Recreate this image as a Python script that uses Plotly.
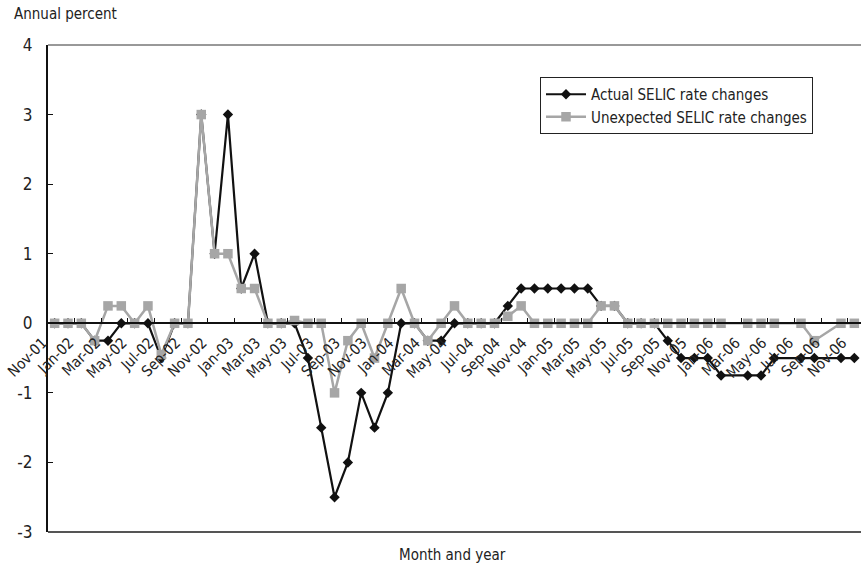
import plotly.graph_objects as go

# Monthly observations, Nov-01 ... Nov-06 (61 months)
month_labels = [
    "Nov-01", "Dec-01",
    "Jan-02", "Feb-02", "Mar-02", "Apr-02", "May-02", "Jun-02", "Jul-02", "Aug-02", "Sep-02", "Oct-02", "Nov-02", "Dec-02",
    "Jan-03", "Feb-03", "Mar-03", "Apr-03", "May-03", "Jun-03", "Jul-03", "Aug-03", "Sep-03", "Oct-03", "Nov-03", "Dec-03",
    "Jan-04", "Feb-04", "Mar-04", "Apr-04", "May-04", "Jun-04", "Jul-04", "Aug-04", "Sep-04", "Oct-04", "Nov-04", "Dec-04",
    "Jan-05", "Feb-05", "Mar-05", "Apr-05", "May-05", "Jun-05", "Jul-05", "Aug-05", "Sep-05", "Oct-05", "Nov-05", "Dec-05",
    "Jan-06", "Feb-06", "Mar-06", "Apr-06", "May-06", "Jun-06", "Jul-06", "Aug-06", "Sep-06", "Oct-06", "Nov-06",
]

actual_changes = [
    0, 0,
    0, -0.25, -0.25, 0, 0, 0, -0.5, 0, 0, 3, 1, 3,
    0.5, 1, 0, 0, 0, -0.5, -1.5, -2.5, -2, -1, -1.5, -1,
    0, 0, -0.25, -0.25, 0, 0, 0, 0, 0.25, 0.5, 0.5, 0.5,
    0.5, 0.5, 0.5, 0.25, 0.25, 0, 0, 0, -0.25, -0.5, -0.5, -0.5,
    -0.75, None, -0.75, -0.75, -0.5, None, -0.5, -0.5, None, -0.5, -0.5,
]

unexpected_changes = [
    0, 0,
    0, -0.25, 0.25, 0.25, 0, 0.25, -0.45, 0, 0, 3, 1, 1,
    0.5, 0.5, 0, 0, 0.04, 0, 0, -1, -0.25, 0, -0.5, 0,
    0.5, 0, -0.25, 0, 0.25, 0, 0, 0, 0.1, 0.25, 0, 0,
    0, 0, 0, 0.25, 0.25, 0, 0, 0, 0, 0, 0, 0,
    0, None, 0, 0, 0, None, 0, -0.25, None, 0, 0,
]

y_tick_values = [-3, -2, -1, 0, 1, 2, 3, 4]
y_tick_text = ["-3", "-2", "-1", "0", "1", "2", "3", "4"]

FONT = "DejaVu Sans Condensed, DejaVu Sans, sans-serif"

x_idx = list(range(len(month_labels)))
label_idx = x_idx[::2]
label_text = month_labels[::2]
minor_ticks = [i + 1.5 for i in x_idx[::2]][:-1]

fig = go.Figure()

fig.add_trace(go.Scatter(
    x=x_idx, y=actual_changes, name="Actual SELIC rate changes",
    mode="lines+markers", connectgaps=True,
    line=dict(color="#111111", width=2.2),
    marker=dict(symbol="diamond", size=8, color="#111111"),
))
fig.add_trace(go.Scatter(
    x=x_idx, y=unexpected_changes, name="Unexpected SELIC rate changes",
    mode="lines+markers", connectgaps=True,
    line=dict(color="#a6a6a6", width=2.5),
    marker=dict(symbol="square", size=9.5, color="#a6a6a6"),
))

fig.update_layout(
    width=861, height=569,
    margin=dict(l=48, r=0, t=45, b=37),
    paper_bgcolor="white", plot_bgcolor="white",
    font=dict(family=FONT, size=15, color="#222222"),
    showlegend=True,
    legend=dict(
        x=(540 - 48) / 813, y=(532 - 77) / 487, xanchor="left", yanchor="top",
        bgcolor="white", bordercolor="#222222", borderwidth=1,
        font=dict(family=FONT, size=15, color="#222222"),
        tracegroupgap=0, itemwidth=40,
    ),
    xaxis=dict(
        range=[-0.5, len(month_labels) - 0.5],
        anchor="free", position=3 / 7,
        showline=True, linecolor="#111111", linewidth=1.5,
        showgrid=False, zeroline=False,
        tickmode="array", tickvals=label_idx, ticktext=label_text,
        ticks="", tickangle=-45,
        tickfont=dict(family=FONT, size=15, color="#222222"),
        ticklabelshift=-12, ticklabelstandoff=4,
        minor=dict(tickmode="array", tickvals=minor_ticks, ticks="inside",
                   ticklen=5, tickcolor="#111111", tickwidth=1),
    ),
    yaxis=dict(
        range=[-3, 4],
        showline=True, linecolor="#111111", linewidth=2,
        showgrid=False, zeroline=False,
        tickmode="array", tickvals=y_tick_values, ticktext=y_tick_text,
        ticks="inside", ticklen=5, tickcolor="#111111",
        ticklabelstandoff=10,
        tickfont=dict(family=FONT, size=17, color="#222222"),
    ),
    shapes=[
        dict(type="line", xref="paper", yref="paper", x0=0, x1=1, y0=0, y1=0,
             line=dict(color="#555555", width=2)),
        dict(type="line", xref="paper", yref="paper", x0=0, x1=1, y0=1, y1=1,
             line=dict(color="#333333", width=1)),
    ],
    annotations=[
        dict(text="Annual percent", xref="paper", yref="paper",
             x=-36 / 813, y=1 + 31 / 487, xanchor="left", yanchor="middle",
             showarrow=False, font=dict(family=FONT, size=15, color="#222222")),
        dict(text="Month and year", xref="paper", yref="paper",
             x=0.497, y=-23 / 487, xanchor="center", yanchor="middle",
             showarrow=False, font=dict(family=FONT, size=15, color="#222222")),
    ],
)

fig.write_html("out.html", post_script="document.body.style.margin='0px';",
               config={"displayModeBar": False})
